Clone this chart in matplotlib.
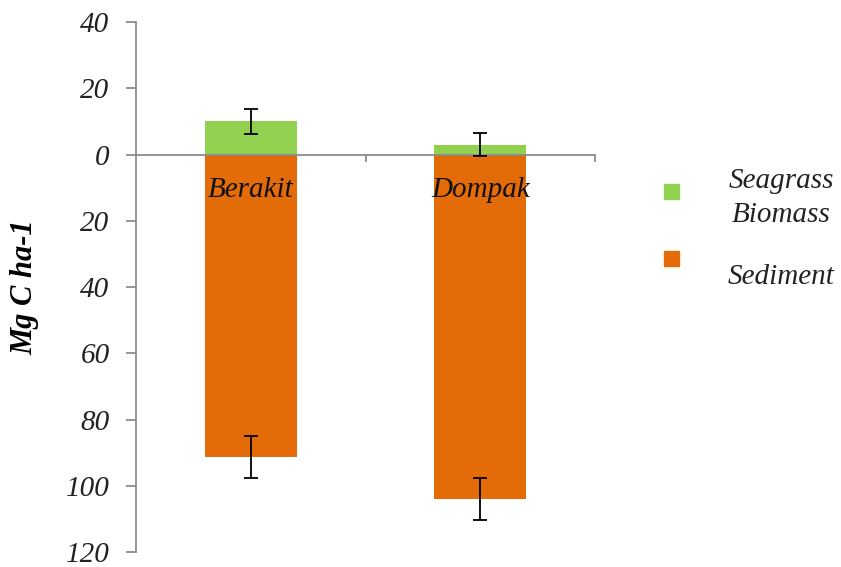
import matplotlib
matplotlib.use("Agg")
import matplotlib.pyplot as plt
from matplotlib.patches import Rectangle
from matplotlib.ticker import FixedLocator, FuncFormatter

# ---- data ----
sites = ["Berakit", "Dompak"]
seagrass = [10.0, 3.0]
seagrass_err = [3.7, 3.5]
sediment = [91.3, 104.0]          # plotted downward (negative)
sediment_err = [6.4, 6.3]
yticks = [40, 20, 0, -20, -40, -60, -80, -100, -120]
series_names = ["Seagrass\nBiomass", "Sediment"]
colors = ["#92D050", "#E36C09"]

W, H = 841, 567
fig = plt.figure(figsize=(W / 100, H / 100), dpi=100)
ax = fig.add_axes([136 / W, (H - 552) / H, 459 / W, 530 / H])

font = dict(family="Liberation Serif", style="italic")
x = list(range(len(sites)))
ax.bar(x, seagrass, width=0.4, color=colors[0], zorder=2)
ax.bar(x, [-v for v in sediment], width=0.4, color=colors[1], zorder=2)
ax.errorbar(x, seagrass, yerr=seagrass_err, fmt="none", ecolor="black",
            elinewidth=1.3, capsize=5, capthick=1.3, zorder=6)
ax.errorbar(x, [-v for v in sediment], yerr=sediment_err, fmt="none",
            ecolor="black", elinewidth=1.3, capsize=5, capthick=1.3, zorder=6)

ax.set_xlim(-0.5, 1.5)
ax.set_ylim(-120, 40)

gray = "#8C8C8C"
for s in ["top", "right"]:
    ax.spines[s].set_visible(False)
ax.spines["left"].set_color(gray)
ax.spines["left"].set_linewidth(1.3)
ax.spines["bottom"].set_position(("data", 0))
ax.spines["bottom"].set_color(gray)
ax.spines["bottom"].set_linewidth(1.3)
ax.spines["bottom"].set_zorder(4)

ax.yaxis.set_major_locator(FixedLocator(yticks))
ax.yaxis.set_major_formatter(FuncFormatter(lambda v, p: f"{abs(int(round(v)))}"))
ax.tick_params(axis="y", direction="out", length=7, width=1.3, color=gray,
               pad=12, labelsize=21, labelcolor="#222222")
for lab in ax.get_yticklabels():
    lab.set_fontfamily("Liberation Serif")
    lab.set_fontstyle("italic")

ax.set_xticks(x)
ax.set_xticklabels(sites)
ax.set_xticks([0.5, 1.5], minor=True)
ax.tick_params(axis="x", which="major", length=0, pad=16, labelsize=21,
               labelcolor="#111111")
ax.tick_params(axis="x", which="minor", direction="out", length=5, width=1.3,
               color=gray)
for lab in ax.get_xticklabels():
    lab.set_fontfamily("Liberation Serif")
    lab.set_fontstyle("italic")
ax.xaxis.set_zorder(5)

ax.set_ylabel("Mg C ha-1", fontsize=22, fontweight="bold", **font)
ax.yaxis.set_label_coords(-0.21, 0.5)

# ---- legend drawn manually ----
sq = 15
for i, (name, c, my, ty) in enumerate(zip(series_names, colors,
                                            [191, 259], [198, 277])):
    fig.add_artist(Rectangle(((671 - sq / 2) / W, (H - my - sq / 2) / H),
                             sq / W, sq / H, transform=fig.transFigure,
                             color=c))
    fig.text(781 / W, (H - ty) / H, name, ha="center", va="center",
             fontsize=21, linespacing=1.45, color="#222222", **font)

fig.savefig("out.png", dpi=100)
